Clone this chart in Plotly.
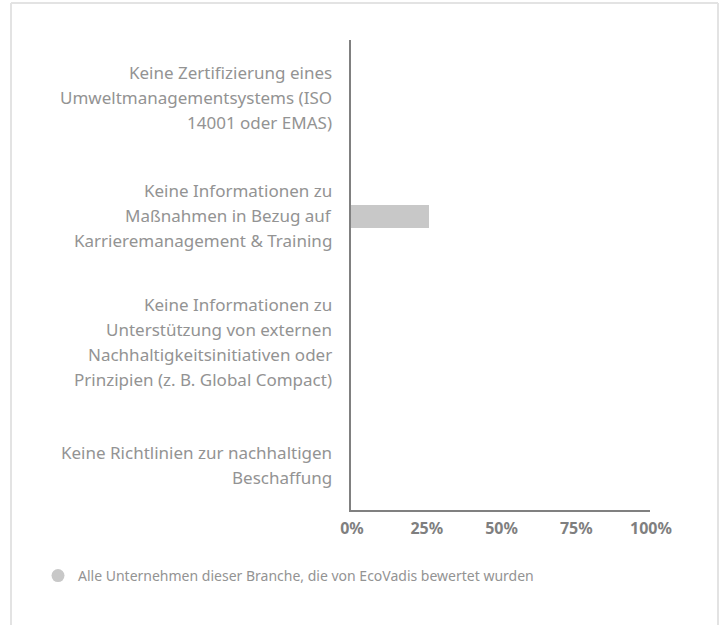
import plotly.graph_objects as go

categories = [
    "Keine Zertifizierung eines Umweltmanagementsystems (ISO 14001 oder EMAS)",
    "Keine Informationen zu Maßnahmen in Bezug auf Karrieremanagement & Training",
    "Keine Informationen zu Unterstützung von externen Nachhaltigkeitsinitiativen oder Prinzipien (z. B. Global Compact)",
    "Keine Richtlinien zur nachhaltigen Beschaffung",
]
label_lines = [
    ["Keine Zertifizierung eines", "Umweltmanagementsystems (ISO", "14001 oder EMAS)"],
    ["Keine Informationen zu", "Maßnahmen in Bezug auf", "Karrieremanagement & Training"],
    ["Keine Informationen zu", "Unterstützung von externen", "Nachhaltigkeitsinitiativen oder", "Prinzipien (z. B. Global Compact)"],
    ["Keine Richtlinien zur nachhaltigen", "Beschaffung"],
]
values = [0, 26, 0, 0]
series_name = "Alle Unternehmen dieser Branche, die von EcoVadis bewertet wurden"
x_ticks = [0, 25, 50, 75, 100]

W, H = 725, 625
# plot area in screen pixels
PX0, PX1, PY0, PY1 = 351, 650, 40, 510
L, R, T, B = PX0, W - PX1, PY0, H - PY1
pw, ph = W - L - R, H - T - B


def px_x(sx):
    return (sx - L) / pw


def px_y(sy):
    return (H - B - sy) / ph


FONT = "Noto Sans"
BAR_COLOR = "#c8c8c8"
LABEL_COLOR = "#939393"
AXIS_COLOR = "#808080"
BORDER_COLOR = "#e3e3e3"

fig = go.Figure()
fig.add_trace(go.Bar(
    y=categories, x=values, orientation="h",
    marker=dict(color=BAR_COLOR, line=dict(width=0)),
    width=0.2, showlegend=False, hoverinfo="x",
))
fig.add_trace(go.Scatter(
    y=[None], x=[None], mode="markers", name=series_name,
    marker=dict(symbol="circle", size=13, color=BAR_COLOR),
    showlegend=True,
))

annotations = []
line_h = 25
label_nudge = [1, 1, -8, -14]  # layout tweak (px) per label block
for cat, lines, nudge in zip(categories, label_lines, label_nudge):
    n = len(lines)
    for j, ln in enumerate(lines):
        annotations.append(dict(
            xref="paper", yref="y", x=px_x(334), y=cat,
            xanchor="right", yanchor="middle",
            text=ln, showarrow=False,
            yshift=((n - 1) / 2 - j) * line_h + nudge,
            font=dict(family=FONT, size=17, color=LABEL_COLOR),
        ))

fig.update_layout(
    width=W, height=H,
    margin=dict(l=L, r=R, t=T, b=B),
    paper_bgcolor="white", plot_bgcolor="white",
    font=dict(family=FONT, color=LABEL_COLOR),
    bargap=0,
    xaxis=dict(
        range=[0, 100], tickvals=x_ticks, ticktext=[f"<b>{v}%</b>" for v in x_ticks],
        showgrid=False, zeroline=False,
        showline=True, linecolor=AXIS_COLOR, linewidth=2,
        ticks="", ticklabelstandoff=3, ticklabelshift=1,
        tickfont=dict(family=FONT, size=16, color="#7f7f7f"),
        fixedrange=True,
    ),
    yaxis=dict(
        categoryorder="array", categoryarray=categories,
        autorange="reversed", showticklabels=False,
        showgrid=False, zeroline=False,
        showline=True, linecolor=AXIS_COLOR, linewidth=2,
        ticks="", fixedrange=True,
    ),
    legend=dict(
        orientation="h", x=px_x(38), y=px_y(576),
        xanchor="left", yanchor="middle",
        font=dict(family=FONT, size=14, color=LABEL_COLOR),
        bgcolor="rgba(0,0,0,0)",
    ),
    annotations=annotations,
    shapes=[
        dict(type="line", xref="paper", yref="paper",
             x0=px_x(11), x1=px_x(11), y0=px_y(3), y1=px_y(640),
             line=dict(color=BORDER_COLOR, width=2)),
        dict(type="line", xref="paper", yref="paper",
             x0=px_x(11), x1=px_x(718), y0=px_y(3), y1=px_y(3),
             line=dict(color=BORDER_COLOR, width=2)),
        dict(type="line", xref="paper", yref="paper",
             x0=px_x(718), x1=px_x(718), y0=px_y(3), y1=px_y(640),
             line=dict(color=BORDER_COLOR, width=2)),
    ],
)

fig.write_html(
    "out.html",
    config={"displayModeBar": False},
    post_script="document.body.style.margin='0';document.body.style.overflow='hidden';",
)
